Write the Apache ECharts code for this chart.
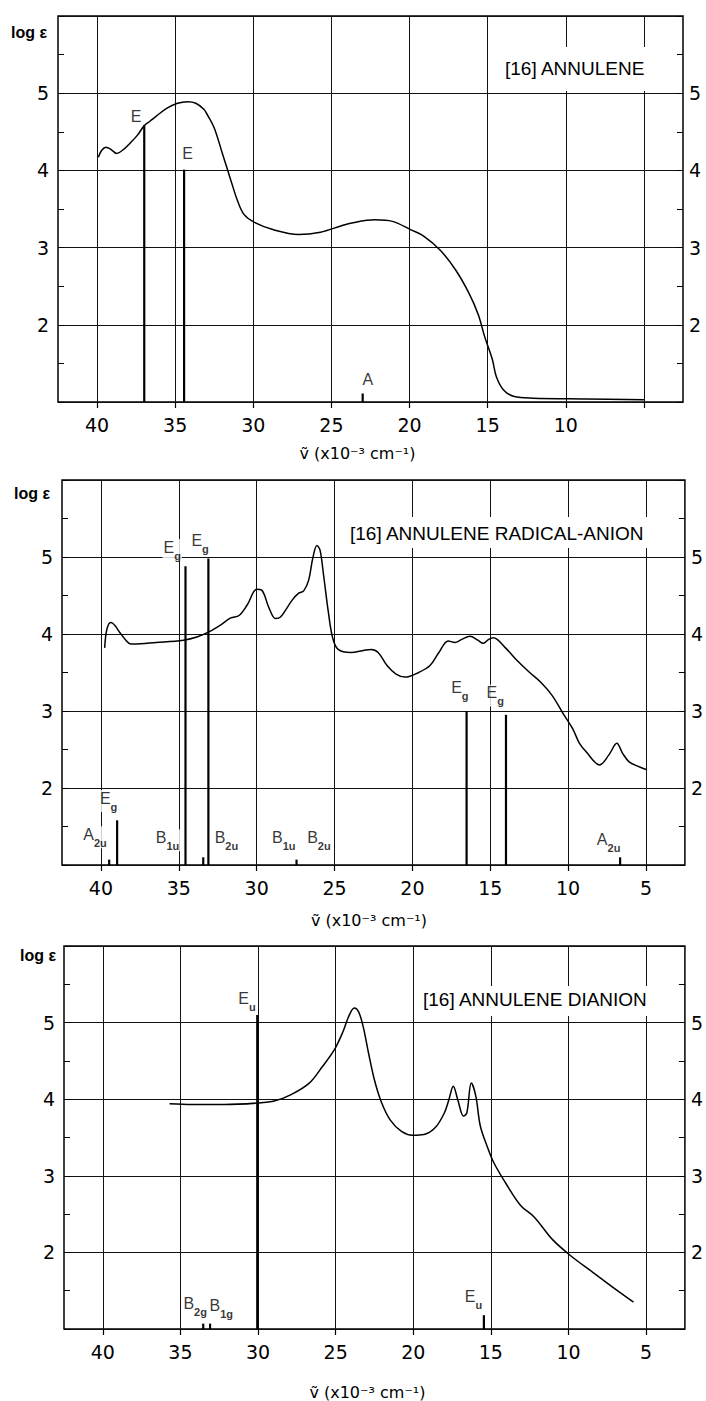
<!DOCTYPE html>
<html><head><meta charset="utf-8">
<script src="https://cdn.jsdelivr.net/npm/echarts@6/dist/echarts.min.js"></script>
<style>html,body{margin:0;padding:0;background:#fff}#c{width:706px;height:1401px}</style>
</head><body><div id="c"></div>
<script>
// ---------- data ----------
const xTicks = [40, 35, 30, 25, 20, 15, 10, 5];
const xLabels1 = [40, 35, 30, 25, 20, 15, 10];
const xLabels23 = [40, 35, 30, 25, 20, 15, 10, 5];
const yLabels = [2, 3, 4, 5];
const panelTitles = ['[16] ANNULENE', '[16] ANNULENE RADICAL-ANION', '[16] ANNULENE DIANION'];
const yName = 'log \u03b5';
const xName = '\u1e7d (x10\u207b\u00b3 cm\u207b\u00b9)';

// [16]annulene absorption curve [wavenumber x1e-3 cm-1, log eps]
const curve1 = [[39.92,4.17],[39.7,4.26],[39.43,4.30],[39.1,4.27],[38.75,4.22],[38.26,4.28],[37.8,4.37],[37.4,4.46],[36.98,4.58],[36.6,4.64],[36.23,4.70],[35.5,4.81],[34.85,4.87],[34.2,4.89],[33.68,4.87],[33.15,4.79],[32.94,4.72],[32.5,4.55],[31.98,4.22],[31.45,3.88],[31.0,3.60],[30.6,3.43],[29.96,3.33],[28.7,3.23],[27.1,3.17],[25.7,3.20],[24.4,3.28],[23.7,3.32],[22.2,3.36],[21.1,3.34],[19.9,3.23],[19.1,3.15],[18.05,2.97],[17.05,2.71],[16.2,2.41],[15.6,2.13],[15.2,1.85],[14.7,1.55],[14.45,1.33],[14.0,1.16],[13.3,1.07],[12.1,1.05],[8.7,1.04],[5.0,1.03]];
// calculated transitions [position, log eps]
const sticks1 = [[36.98,4.58],[34.43,4.01],[23.0,1.11]];
// transition labels [x, y, symbol, subscript]
const notes1 = [[37.51,4.70,'E',''],[34.21,4.22,'E',''],[22.67,1.29,'A','']];

// radical-anion
const curve2 = [[39.76,3.82],[39.66,4.02],[39.5,4.13],[39.35,4.15],[39.1,4.11],[38.79,4.02],[38.4,3.92],[38.1,3.87],[37.9,3.87],[36.45,3.89],[34.7,3.92],[33.84,3.96],[33.04,4.03],[32.3,4.12],[31.66,4.21],[31.13,4.24],[30.6,4.38],[30.0,4.58],[29.68,4.57],[29.21,4.34],[28.79,4.20],[28.47,4.22],[27.72,4.44],[27.3,4.53],[26.98,4.56],[26.66,4.70],[26.4,4.98],[26.13,5.15],[25.93,5.09],[25.7,4.76],[25.4,4.29],[25.12,3.95],[24.77,3.80],[23.95,3.76],[23.08,3.79],[22.65,3.80],[22.2,3.76],[21.63,3.59],[21.05,3.48],[20.47,3.44],[19.6,3.50],[18.87,3.59],[18.3,3.76],[17.7,3.91],[17.27,3.89],[16.83,3.93],[16.3,3.97],[15.8,3.92],[15.45,3.88],[15.1,3.93],[14.8,3.95],[14.07,3.83],[13.34,3.67],[12.47,3.50],[11.74,3.37],[11.02,3.20],[10.3,2.96],[9.71,2.77],[9.27,2.58],[8.84,2.47],[7.98,2.30],[7.38,2.43],[6.87,2.58],[6.5,2.45],[6.08,2.34],[5.5,2.28],[5.0,2.24]];
const sticks2 = [[39.47,1.07],[38.96,1.58],[34.57,4.88],[33.43,1.1],[33.1,4.98],[27.44,1.07],[16.52,3.0],[13.99,2.95],[6.66,1.1]];
const notes2 = [[35.42,5.09,'E','g'],[33.63,5.17,'E','g'],[39.51,1.83,'E','g'],[40.38,1.36,'A','2u'],[35.72,1.32,'B','1u'],[31.94,1.32,'B','2u'],[28.26,1.32,'B','1u'],[26.0,1.32,'B','2u'],[16.95,3.26,'E','g'],[14.68,3.20,'E','g'],[7.4,1.29,'A','2u']];

// dianion
const curve3 = [[35.7,3.94],[34.25,3.93],[32.2,3.93],[30.05,3.95],[28.9,3.98],[27.87,4.06],[26.7,4.21],[25.84,4.43],[25.1,4.64],[24.53,4.88],[24.16,5.08],[23.8,5.19],[23.52,5.14],[23.23,4.95],[22.88,4.60],[22.5,4.25],[22.07,3.97],[21.49,3.73],[20.76,3.58],[20.04,3.53],[19.31,3.54],[18.58,3.63],[18.0,3.82],[17.71,3.99],[17.42,4.17],[17.13,3.99],[16.76,3.78],[16.55,3.82],[16.26,4.21],[15.97,4.04],[15.68,3.65],[15.25,3.39],[14.81,3.17],[13.94,2.87],[13.07,2.61],[12.2,2.46],[11.04,2.17],[9.88,1.96],[8.43,1.74],[6.98,1.52],[5.81,1.35]];
const sticks3 = [[33.53,1.07],[33.09,1.07],[30.05,5.1],[15.45,1.18]];
const notes3 = [[30.71,5.28,'E','u'],[34.05,1.29,'B','2g'],[32.37,1.27,'B','1g'],[16.12,1.38,'E','u']];

// ---------- layout / styling ----------
const X_MIN = 2.5, X_MAX = 42.5, Y_MIN = 1, Y_MAX = 6;
const FT = 'Liberation Sans', FN = 'DejaVu Sans';
const panels = [
  {curve: curve1, sticks: sticks1, notes: notes1, xl: xLabels1, grid: {left:58, top:16, width:625, height:386}, nameGap:43, namePad:[0,26,0,0],
   title:{left:499, top:47, padding:[12,6,13,6]}, yn:{left:11, top:24}},
  {curve: curve2, sticks: sticks2, notes: notes2, xl: xLabels23, grid: {left:62, top:480, width:625, height:385}, nameGap:47, namePad:[0,9,0,0],
   title:{left:344, top:517, padding:[7,6,5,6]}, yn:{left:14, top:485}},
  {curve: curve3, sticks: sticks3, notes: notes3, xl: xLabels23, grid: {left:64, top:946, width:626, height:384}, nameGap:55, namePad:[0,14,0,0],
   title:{left:417, top:986, padding:[4,6,7,6]}, yn:{left:20, top:947}}
];

const grid = [], xAxis = [], yAxis = [], series = [], title = [];
panels.forEach((p, i) => {
  grid.push(Object.assign({show:true, borderColor:'#000', borderWidth:1.5, backgroundColor:'#fff'}, p.grid));
  xAxis.push({
    type:'value', gridIndex:i, min:X_MIN, max:X_MAX, inverse:true,
    axisLine:{show:false},
    axisTick:{show:true, customValues:xTicks, length:6, lineStyle:{color:'#000', width:1.2}},
    axisLabel:{customValues:p.xl, margin:13, color:'#000', fontFamily:FN, fontSize:19},
    splitLine:{show:true, lineStyle:{color:'#111', width:1}},
    name:xName, nameLocation:'middle', nameGap:p.nameGap,
    nameTextStyle:{color:'#000', fontFamily:FN, fontSize:16, padding:p.namePad}
  });
  const yBase = {
    type:'value', gridIndex:i, min:Y_MIN, max:Y_MAX, interval:1,
    axisLine:{show:false},
    axisTick:{show:true, inside:true, length:6, lineStyle:{color:'#000'}},
    minorTick:{show:true, splitNumber:2, length:6, lineStyle:{color:'#000', width:1}},
    minorSplitLine:{show:false}
  };
  yAxis.push(Object.assign({}, yBase, {
    position:'left',
    axisLabel:{formatter:v => yLabels.includes(v) ? String(v) : '', margin:9, color:'#000', fontFamily:FN, fontSize:19, padding:[0,0,7,0]},
    splitLine:{show:true, lineStyle:{color:'#111', width:1}}
  }));
  yAxis.push(Object.assign({}, yBase, {
    position:'right',
    axisLabel:{formatter:v => yLabels.includes(v) ? String(v) : '', margin:6, color:'#000', fontFamily:FN, fontSize:19, padding:[0,0,10,0]},
    splitLine:{show:false}
  }));
  series.push({
    type:'scatter', xAxisIndex:i, yAxisIndex:2*i, z:1, symbolSize:1, silent:true,
    itemStyle:{color:'rgba(0,0,0,0)'},
    data:p.notes.map(n => ({value:[n[0], n[1]], main:n[2], sub:n[3]})),
    label:{show:true, position:'inside', color:'#000', backgroundColor:'#fff', padding:[0,1],
      formatter: q => '{m|' + q.data.main + '}' + (q.data.sub ? '{s|' + q.data.sub + '}' : ''),
      rich:{
        m:{fontFamily:FT, fontSize:16, lineHeight:16, verticalAlign:'top', color:'#000'},
        s:{fontFamily:FT, fontSize:11, fontWeight:'bold', lineHeight:22, verticalAlign:'bottom', color:'#000'}
      }}
  });
  series.push({
    type:'custom', xAxisIndex:i, yAxisIndex:2*i, z:3, silent:true,
    encode:{x:0, y:1},
    data:p.sticks,
    renderItem:(params, api) => {
      const x = api.value(0), top = api.value(1);
      const a = api.coord([x, Y_MIN]), b = api.coord([x, top]);
      return {type:'line', shape:{x1:a[0], y1:a[1], x2:b[0], y2:b[1]}, style:{stroke:'#000', lineWidth:2.2}};
    }
  });
  series.push({
    type:'line', xAxisIndex:i, yAxisIndex:2*i, z:3, silent:true,
    data:p.curve, showSymbol:false, smooth:0.35,
    lineStyle:{color:'#000', width:1.5}
  });
  title.push({text:panelTitles[i], left:p.title.left, top:p.title.top, padding:p.title.padding, backgroundColor:'#fff',
    textStyle:{fontFamily:FT, fontSize:19, fontWeight:'normal', color:'#000'}});
  title.push({text:yName, left:p.yn.left, top:p.yn.top, padding:0,
    textStyle:{fontFamily:FT, fontSize:16, fontWeight:'bold', color:'#000'}});
});

const chart = echarts.init(document.getElementById('c'), null, {renderer:'svg'});
chart.setOption({animation:false, backgroundColor:'#fff', title, grid, xAxis, yAxis, series});
</script>
</body></html>
